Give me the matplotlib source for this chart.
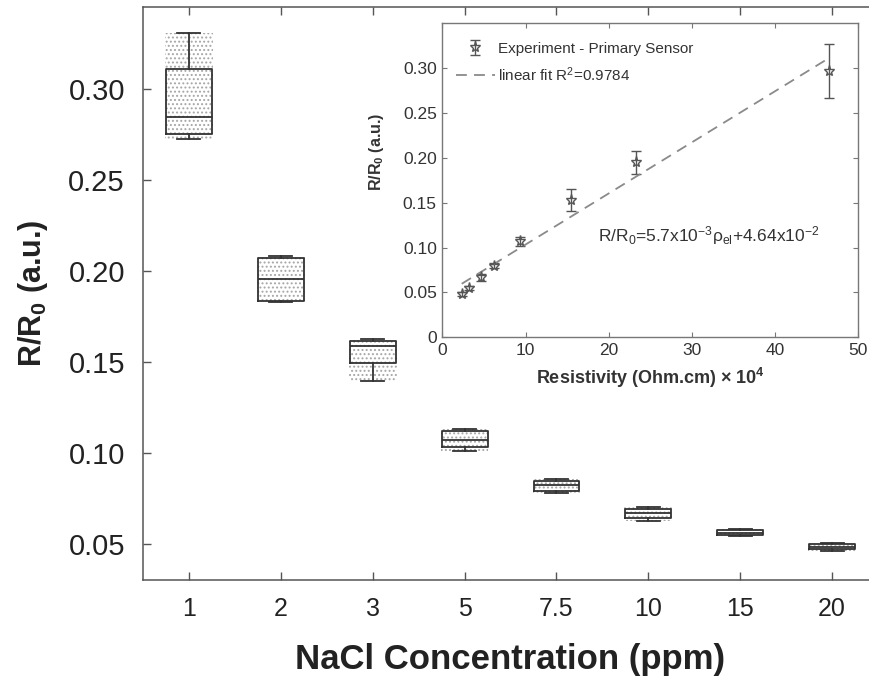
import matplotlib
matplotlib.use("Agg")
import matplotlib.pyplot as plt

# --- main panel: box statistics per NaCl concentration ---
conc_labels = ['1', '2', '3', '5', '7.5', '10', '15', '20']
whislo = [0.2725, 0.1831, 0.1392, 0.1011, 0.0780, 0.0626, 0.0540, 0.0462]
q1 = [0.2753, 0.1835, 0.1492, 0.1029, 0.0787, 0.0641, 0.0546, 0.0468]
med = [0.2846, 0.1956, 0.1586, 0.1071, 0.0824, 0.0669, 0.0560, 0.0482]
q3 = [0.3110, 0.2071, 0.1612, 0.1121, 0.0846, 0.0692, 0.0575, 0.0497]
whishi = [0.3308, 0.2082, 0.1625, 0.1132, 0.0855, 0.0699, 0.0582, 0.0505]

# --- inset: R/R0 vs resistivity (x 10^4 Ohm.cm) ---
resistivity = [2.33, 3.2, 4.6, 6.2, 9.3, 15.5, 23.3, 46.5]
ratio = [0.048, 0.055, 0.067, 0.080, 0.107, 0.153, 0.195, 0.297]
ratio_err = [0.002, 0.002, 0.004, 0.003, 0.005, 0.0125, 0.013, 0.030]
fit_slope = 5.7e-3
fit_icpt = 4.64e-2

plt.rcParams['font.family'] = ['Liberation Sans', 'DejaVu Sans']
plt.rcParams['mathtext.default'] = 'regular'
plt.rcParams['hatch.linewidth'] = 0.9

fig = plt.figure(figsize=(8.69, 6.79), dpi=100)
ax = fig.add_axes([0.1646, 0.1458, 0.8458, 0.8439])

pos = list(range(1, len(conc_labels) + 1))
stats = []
for i in range(len(conc_labels)):
    stats.append(dict(med=med[i], q1=q1[i], q3=q3[i], whislo=whislo[i], whishi=whishi[i], fliers=[]))

# stippled "raw data" cloud between the whiskers
ax.bar(pos, [h - l for h, l in zip(whishi, whislo)], bottom=whislo, width=0.52,
       facecolor='none', edgecolor='#a6a6a6', linewidth=0, hatch='....', zorder=1)

line = dict(color='#333333', linewidth=1.3)
ax.bxp(stats, positions=pos, widths=0.5, capwidths=0.25, showfliers=False,
       boxprops=line, whiskerprops=line, capprops=line, medianprops=line, zorder=2)

ax.set_xlim(0.5, 8.5)
ax.set_ylim(0.03, 0.345)
ax.set_xticks(pos)
ax.set_xticklabels(conc_labels, fontsize=18, color='#222222')
ax.set_yticks([0.05, 0.10, 0.15, 0.20, 0.25, 0.30])
ax.set_yticklabels(['0.05', '0.10', '0.15', '0.20', '0.25', '0.30'], fontsize=21, color='#222222')
ax.tick_params(direction='in', length=6, width=1, color='#555555', top=True, right=True)
ax.tick_params(axis='y', pad=13)
ax.tick_params(axis='x', pad=12)
for s in ax.spines.values():
    s.set_color('#555555')
    s.set_linewidth(1.1)
ax.set_xlabel('NaCl Concentration (ppm)', fontsize=25, fontweight='bold', color='#222222', labelpad=16)
ax.set_ylabel('R/R$_0$ (a.u.)', fontsize=22, fontweight='bold', color='#222222', labelpad=13)

# --- inset ---
ins = fig.add_axes([0.509, 0.5032, 0.4787, 0.4624])
ins.set_facecolor('white')
eb = ins.errorbar(resistivity, ratio, yerr=ratio_err, fmt='*', color='#555555',
                  mfc='none', mec='#555555', ms=8, mew=1.0, elinewidth=1.0, capsize=3.5, capthick=1.0)
fx = [min(resistivity), max(resistivity)]
fy = [fit_slope * v + fit_icpt for v in fx]
fl, = ins.plot(fx, fy, '--', color='#8a8a8a', linewidth=1.3, dashes=(6, 4))
ins.set_xlim(0, 50)
ins.set_ylim(0, 0.35)
ins.set_xticks([0, 10, 20, 30, 40, 50])
ins.set_xticklabels(['0', '10', '20', '30', '40', '50'], fontsize=12.5, color='#333333')
ins.set_yticks([0, 0.05, 0.10, 0.15, 0.20, 0.25, 0.30])
ins.set_yticklabels(['0', '0.05', '0.10', '0.15', '0.20', '0.25', '0.30'], fontsize=12.5, color='#333333')
ins.tick_params(direction='in', length=3.5, width=0.8, color='#777777', top=True, right=True, pad=4)
for s in ins.spines.values():
    s.set_color('#777777')
    s.set_linewidth(1.0)
ins.set_xlabel(r'Resistivity (Ohm.cm) $\times$ 10$^4$', fontsize=13, fontweight='bold', color='#333333', labelpad=6)
ins.set_ylabel('R/R$_0$ (a.u.)', fontsize=11.5, fontweight='bold', color='#333333')
ins.yaxis.set_label_coords(-0.135, 0.59)
ins.text(18.7, 0.114, r'R/R$_0$=5.7x10$^{-3}$$\rho_{el}$+4.64x10$^{-2}$', fontsize=12.5,
         color='#333333', ha='left', va='center')
ins.legend([eb, fl], ['Experiment - Primary Sensor', 'linear fit R$^2$=0.9784'],
           loc='upper left', bbox_to_anchor=(-0.005, 0.99), frameon=False, fontsize=11,
           handlelength=2.6, handletextpad=0.2, labelspacing=0.6, borderaxespad=0.6,
           labelcolor='#333333')

fig.savefig('out.png', dpi=100)
